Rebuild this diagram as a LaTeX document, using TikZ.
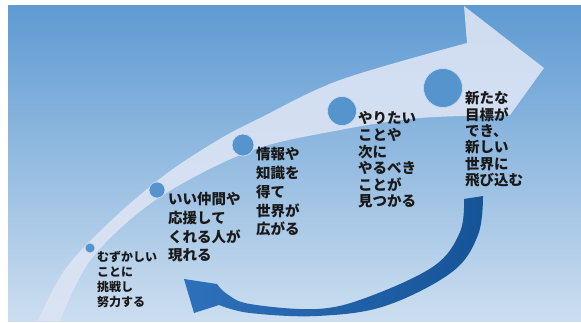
\documentclass[tikz,border=0pt]{standalone}
\usepackage{fontspec}
\newfontfamily\jp{Noto Sans CJK JP}
\definecolor{bgtop}{RGB}{94,154,210}
\definecolor{bgmid}{RGB}{150,190,228}
\definecolor{bgbot}{RGB}{204,222,240}
\definecolor{bandc}{RGB}{220,228,244}
\definecolor{dotc}{RGB}{86,148,206}
\definecolor{dotrim}{RGB}{200,218,240}
\definecolor{retdark}{RGB}{22,84,152}
\definecolor{retlight}{RGB}{46,112,186}
\definecolor{textc}{RGB}{25,25,25}
\tikzset{
  dotnode/.style={circle, fill=dotc, draw=dotrim, line width=0.7pt, inner sep=0pt},
  txt/.style={align=left, inner sep=0pt, text=textc, anchor=north west},
  bigtxt/.style={txt, font=\jp\bfseries\fontsize{14.5}{#1}\selectfont},
}
\begin{document}
\begin{tikzpicture}[x=1pt,y=-1pt]
\useasboundingbox (0,0) rectangle (581,322);
% background
\shade[top color=bgtop, middle color=bgmid, bottom color=bgbot] (8,5) rectangle (581,321);
% big upward arrow
\fill[bandc, fill opacity=0.9]
  plot[smooth,tension=0.55] coordinates {(38,321) (66,268) (115,217) (166,174) (218,140) (260,118) (340,80) (467,43)}
  -- (464,6) -- (544,68) -- (510,115)
  -- plot[smooth,tension=0.55] coordinates {(510,115) (420,118) (340,130) (250,151) (157,199) (92,258) (60,321)}
  -- cycle;
% return arrow
\shade[left color=retlight, right color=retdark]
  plot[smooth,tension=0.6] coordinates {(483,196) (478,235) (452,272) (385,306) (317,316) (250,313) (219,305)}
  -- (194,313) -- (184,279) -- (217,284)
  -- plot[smooth,tension=0.6] coordinates {(217,284) (227,294) (250,304) (317,309) (368,297) (434,266) (460,232) (464,199)}
  -- cycle;
% dots
\node[dotnode, minimum size=10pt] (d1) at (90,248) {};
\node[dotnode, minimum size=16pt] (d2) at (157,190) {};
\node[dotnode, minimum size=22pt] (d3) at (243,145) {};
\node[dotnode, minimum size=29pt] (d4) at (342,111) {};
\node[dotnode, minimum size=39pt] (d5) at (443,88) {};
% texts
\node[txt, font=\jp\bfseries\fontsize{12}{15.3}\selectfont] (t1) at (97,250.5) {むずかしい\\ことに\\挑戦し\\努力する};
\node[bigtxt=18.7] (t2) at (168,192.3) {いい仲間や\\応援して\\くれる人が\\現れる};
\node[bigtxt=18.7] (t3) at (256,147.3) {情報や\\知識を\\得て\\世界が\\広がる};
\node[bigtxt=16.6] (t4) at (358,111.3) {やりたい\\ことや\\次に\\やるべき\\ことが\\見つかる};
\node[bigtxt=16.4] (t5) at (465,91.3) {新たな\\目標が\\でき、\\新しい\\世界に\\飛び込む};
\end{tikzpicture}
\end{document}
